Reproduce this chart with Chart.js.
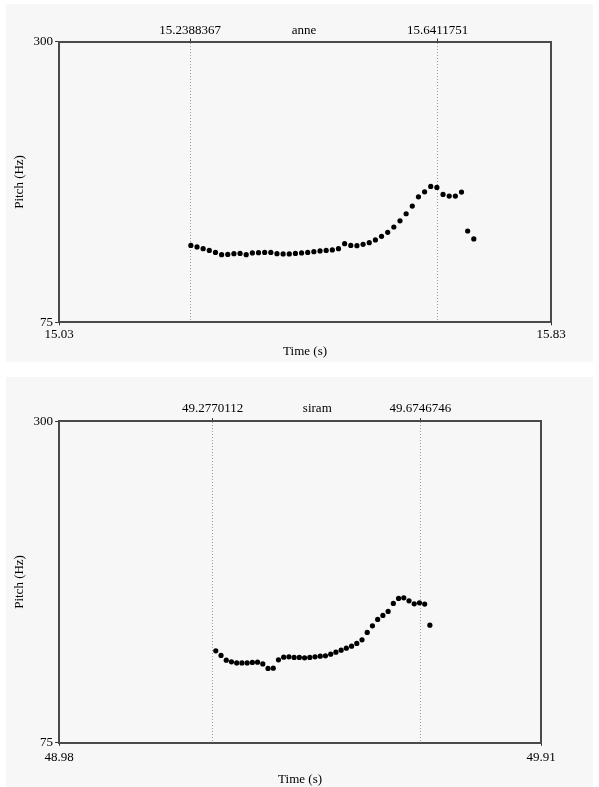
<!DOCTYPE html>
<html>
<head>
<meta charset="utf-8">
<script src="https://cdn.jsdelivr.net/npm/chart.js@4/dist/chart.umd.min.js"></script>
<style>
  body { margin: 0; background: #fff; }
  .panel { position: absolute; left: 6px; width: 587px; background: #f7f7f7; }
  #p1 { top: 4px; height: 358px; }
  #p2 { top: 377px; height: 410px; }
</style>
</head>
<body>
<div class="panel" id="p1"><canvas id="anneChart" width="587" height="358"></canvas></div>
<div class="panel" id="p2"><canvas id="siramChart" width="587" height="410"></canvas></div>
<script>
// pitch axis, shared by both plots
const pitchRange = [75, 300];
const pitchLabels = ["75", "300"];

// "anne"
const anneRange = [15.0258, 15.8255];
const anneRangeLabels = ["15.03", "15.83"];
const anneMarks = [15.2388367, 15.4238, 15.6411751];
const anneMarkLabels = ["15.2388367", "anne", "15.6411751"];
const anneTimes = [
  15.240, 15.250, 15.260, 15.270, 15.280, 15.290, 15.300, 15.310, 15.320, 15.330,
  15.340, 15.350, 15.360, 15.370, 15.380, 15.390, 15.400, 15.410, 15.420, 15.430,
  15.440, 15.450, 15.460, 15.470, 15.480, 15.490, 15.500, 15.510, 15.520, 15.530,
  15.540, 15.550, 15.560, 15.570, 15.580, 15.590, 15.600, 15.610, 15.620, 15.630,
  15.640, 15.650, 15.660, 15.670, 15.680, 15.690, 15.700
];
const annePitch = [
  136.6, 135.4, 134.0, 132.6, 131.0, 129.2, 129.4, 130.0, 130.2, 129.2,
  130.6, 130.8, 131.0, 131.0, 130.0, 129.8, 129.8, 130.2, 130.6, 131.0,
  131.6, 132.2, 132.6, 133.0, 134.0, 138.0, 136.6, 136.4, 137.5, 138.8,
  141.0, 143.9, 147.1, 151.4, 156.3, 162.0, 168.2, 175.6, 179.6, 183.9,
  183.1, 177.5, 176.2, 176.2, 179.4, 148.2, 141.8
];

// "siram"
const siramRange = [48.9829, 49.9058];
const siramRangeLabels = ["48.98", "49.91"];
const siramMarks = [49.2770112, 49.4774, 49.6746746];
const siramMarkLabels = ["49.2770112", "siram", "49.6746746"];
const siramTimes = [
  49.283, 49.293, 49.303, 49.313, 49.323, 49.333, 49.343, 49.353, 49.363, 49.373,
  49.383, 49.393, 49.403, 49.413, 49.423, 49.433, 49.443, 49.453, 49.463, 49.473,
  49.483, 49.493, 49.503, 49.513, 49.523, 49.533, 49.543, 49.553, 49.563, 49.573,
  49.583, 49.593, 49.603, 49.613, 49.623, 49.633, 49.643, 49.653, 49.663, 49.673,
  49.683, 49.693
];
const siramPitch = [
  139.3, 136.1, 132.8, 131.6, 130.9, 130.9, 130.9, 131.2, 131.4, 130.2,
  127.0, 127.2, 133.0, 134.9, 135.1, 134.7, 134.7, 134.4, 134.7, 135.1,
  135.6, 135.8, 137.0, 138.4, 139.8, 141.2, 142.6, 144.5, 147.0, 152.2,
  156.8, 161.3, 164.1, 166.9, 172.5, 176.0, 176.4, 174.3, 172.2, 172.9,
  172.0, 157.3
];

Chart.defaults.font.family = "'Liberation Serif', 'Times New Roman', serif";
Chart.defaults.font.size = 13;
Chart.defaults.color = "#000";

function fixedTicks(values) {
  return (axis) => {
    axis.ticks = values.map((v) => ({ value: v }));
  };
}

function labelFor(values, labels) {
  return (v) => {
    const i = values.indexOf(v);
    return i < 0 ? "" : labels[i];
  };
}

function pitchChart(id, times, pitch, range, rangeLabels, marks, markLabels, lay) {
  const frame = { display: true, color: "#4a4a4a", width: 2 };
  const tickMarks = {
    display: true,
    drawOnChartArea: false,
    drawTicks: true,
    tickLength: 3,
    tickColor: "#333",
    tickWidth: 1,
  };
  // middle mark is only the word label, no line
  const markColor = (c) => (c.index === 1 ? "rgba(0,0,0,0)" : "#9a9a9a");
  const markTick = (c) => (c.index === 1 ? "rgba(0,0,0,0)" : "#333");

  return new Chart(document.getElementById(id), {
    type: "scatter",
    data: {
      datasets: [
        {
          data: times.map((t, i) => ({ x: t, y: pitch[i] })),
          pointRadius: 2.6,
          pointBackgroundColor: "#000",
          pointBorderWidth: 0,
        },
      ],
    },
    options: {
      responsive: false,
      animation: false,
      devicePixelRatio: 1,
      layout: { padding: lay.padding },
      plugins: { legend: { display: false }, tooltip: { enabled: false } },
      scales: {
        x: {
          type: "linear",
          position: "bottom",
          min: range[0],
          max: range[1],
          afterBuildTicks: fixedTicks(range),
          ticks: { autoSkip: false, maxRotation: 0, padding: lay.xPad, callback: labelFor(range, rangeLabels) },
          grid: tickMarks,
          border: frame,
          title: { display: true, text: "Time (s)", padding: { top: lay.titleTop, bottom: 0 } },
        },
        x2: {
          type: "linear",
          position: "top",
          min: range[0],
          max: range[1],
          afterBuildTicks: fixedTicks(marks),
          ticks: { autoSkip: false, maxRotation: 0, padding: lay.topPad, callback: labelFor(marks, markLabels) },
          grid: {
            drawOnChartArea: true,
            drawTicks: true,
            tickLength: 3,
            lineWidth: 1,
            color: markColor,
            tickColor: markTick,
          },
          border: { display: true, color: "#4a4a4a", width: 2, dash: [1, 2] },
        },
        y: {
          type: "linear",
          position: "left",
          min: pitchRange[0],
          max: pitchRange[1],
          afterBuildTicks: fixedTicks(pitchRange),
          ticks: { padding: 2, callback: labelFor(pitchRange, pitchLabels) },
          grid: { ...tickMarks, tickLength: 4 },
          border: frame,
          title: { display: true, text: "Pitch (Hz)", padding: { top: 0, bottom: 4 } },
        },
        y2: {
          type: "linear",
          position: "right",
          min: pitchRange[0],
          max: pitchRange[1],
          ticks: { display: false },
          grid: { display: false },
          border: frame,
        },
      },
    },
  });
}

pitchChart("anneChart", anneTimes, annePitch, anneRange, anneRangeLabels, anneMarks, anneMarkLabels, {
  padding: { left: 6, right: 34, top: 19, bottom: 2.5 },
  xPad: 1,
  titleTop: 1,
  topPad: 0,
});

pitchChart("siramChart", siramTimes, siramPitch, siramRange, siramRangeLabels, siramMarks, siramMarkLabels, {
  padding: { left: 6, right: 44, top: 21.5, bottom: 0 },
  xPad: 4,
  titleTop: 2,
  topPad: 2,
});
</script>
</body>
</html>
